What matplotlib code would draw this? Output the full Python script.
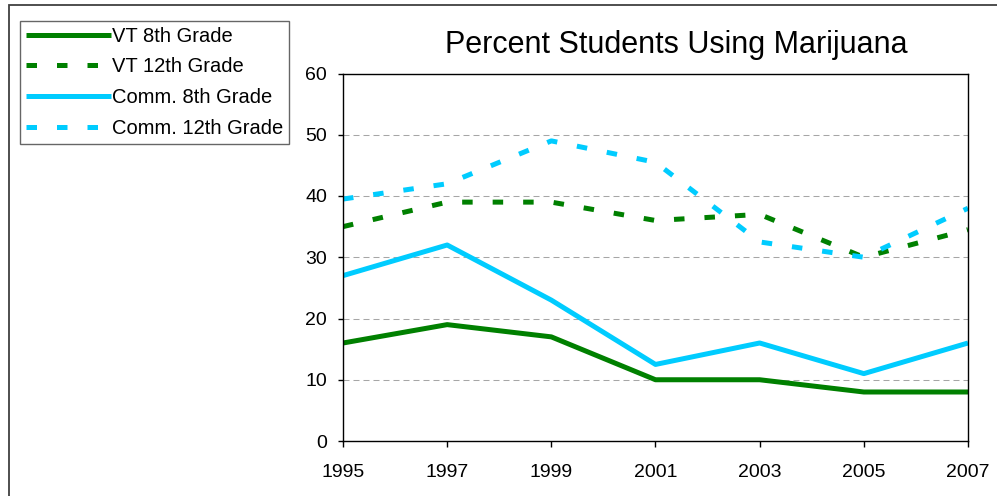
import matplotlib
matplotlib.use("Agg")
import matplotlib.pyplot as plt
from matplotlib.patches import Rectangle

plt.rcParams['font.family'] = ['Liberation Sans', 'DejaVu Sans']

years = [1995, 1997, 1999, 2001, 2003, 2005, 2007]
vt_8th = [16, 19, 17, 10, 10, 8, 8]
vt_12th = [35, 39, 39, 36, 37, 30, 34.5]
comm_8th = [27, 32, 23, 12.5, 16, 11, 16]
comm_12th = [39.5, 42, 49, 45.5, 32.5, 30, 38]

green = "#008000"
blue = "#00CCFF"

W, H = 997, 496
fig = plt.figure(figsize=(W / 100, H / 100), dpi=100)
ax = fig.add_axes([343 / W, 1 - 441 / H, (968 - 343) / W, (441 - 73.5) / H])

lw = 3.6
dash = (0, (2.1, 4.0))
ax.plot(years, vt_8th, color=green, lw=lw, label="VT 8th Grade", solid_capstyle="butt")
ax.plot(years, vt_12th, color=green, lw=lw, ls=dash, label="VT 12th Grade")
ax.plot(years, comm_8th, color=blue, lw=lw, label="Comm. 8th Grade", solid_capstyle="butt")
ax.plot(years, comm_12th, color=blue, lw=lw, ls=dash, label="Comm. 12th Grade")

ax.set_xlim(1995, 2007)
ax.set_ylim(0, 60)
ax.set_xticks(years)
ax.set_yticks(range(0, 61, 10))
ax.yaxis.grid(True, color="#a6a6a6", lw=0.75, ls=(0, (5.76, 3.84)))
ax.set_axisbelow(True)
for s in ax.spines.values():
    s.set_linewidth(1.0)
    s.set_color("black")
ax.tick_params(axis="x", direction="out", length=4.3, width=1, labelsize=14, pad=12.5)
ax.tick_params(axis="y", direction="out", length=3.6, width=1, labelsize=14, pad=8)

fig.text(676.5 / W, 1 - 53.3 / H, "Percent Students Using Marijuana",
         fontsize=22, ha="center", va="baseline")

leg = fig.legend(loc="upper left", bbox_to_anchor=(20 / W, 1 - 20.7 / H),
                 borderaxespad=0, fontsize=14.5, frameon=True, fancybox=False,
                 handlelength=4.2, handletextpad=0.05, labelspacing=0.58,
                 borderpad=0.3)
leg.get_frame().set_edgecolor("#404040")
leg.get_frame().set_linewidth(1.0)

# outer chart border (right and bottom cut off)
fig.patches.append(Rectangle((9.3 / W, -0.1), 2, 1 - 4.5 / H + 0.1,
                             transform=fig.transFigure, fill=False,
                             edgecolor="#404040", lw=1.3))

fig.savefig("out.png", dpi=100)
